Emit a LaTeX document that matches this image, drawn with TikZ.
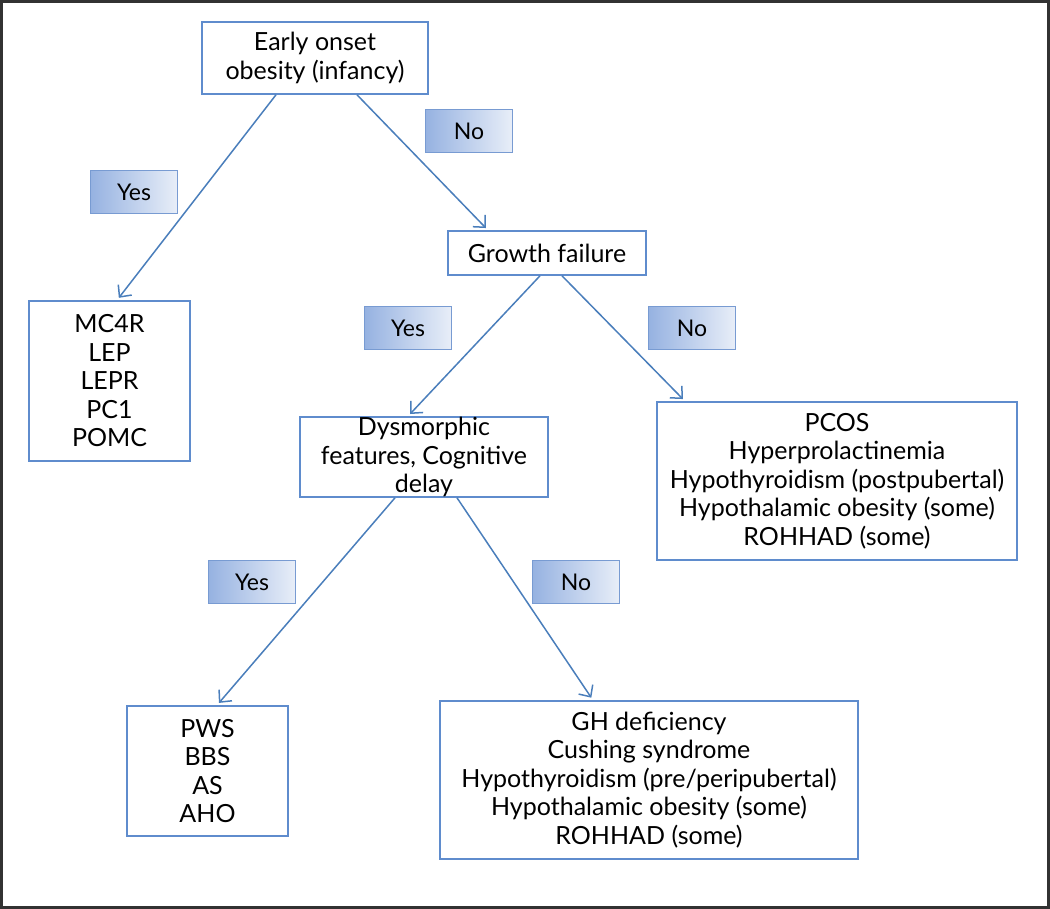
\documentclass[tikz,border=0pt]{standalone}
\usepackage{fontspec}
\setmainfont{Lato}
\usetikzlibrary{arrows.meta}
\definecolor{arrowblue}{RGB}{74,126,187}
\definecolor{boxblue}{RGB}{95,140,205}
\definecolor{labdark}{RGB}{150,178,225}
\definecolor{lablight}{RGB}{232,238,248}
\definecolor{labborder}{RGB}{120,155,210}
\definecolor{frame}{RGB}{50,50,50}
\tikzset{
  box/.style={draw=boxblue, line width=1.6pt, rectangle, inner sep=0pt, align=center,
    font=\fontsize{25}{28.5}\selectfont, text=black},
  lab/.style={draw=labborder, line width=0.9pt, rectangle, inner sep=0pt,
    left color=labdark, right color=lablight, minimum width=87pt, minimum height=43pt,
    font=\fontsize{23}{26}\selectfont, text=black},
  conn/.style={draw=arrowblue, line width=1.5pt, -{Straight Barb[length=9pt,width=17pt,line width=1.5pt]}, shorten >=3pt}
}
\begin{document}
\begin{tikzpicture}[x=1pt,y=-1pt]
\useasboundingbox (0,0) rectangle (1050,909);
\draw[frame, line width=3pt] (1.5,1.5) rectangle (1048.5,907.5);

\node[box, minimum width=226pt, minimum height=72pt] (top) at (315,58) {Early onset\\obesity (infancy)};
\node[box, minimum width=161pt, minimum height=160pt] (lbox) at (109.5,381) {MC4R\\LEP\\LEPR\\PC1\\POMC};
\node[box, minimum width=198pt, minimum height=44pt] (growth) at (547,253) {Growth failure};
\node[box, minimum width=248pt, minimum height=80pt] (dys) at (424,457) {Dysmorphic\\features, Cognitive\\delay};
\node[box, minimum width=360pt, minimum height=158pt] (pcos) at (837,481) {PCOS\\Hyperprolactinemia\\Hypothyroidism (postpubertal)\\Hypothalamic obesity (some)\\ROHHAD (some)};
\node[box, minimum width=161pt, minimum height=130pt] (pws) at (207.5,771) {PWS\\BBS\\AS\\AHO};
\node[box, minimum width=418pt, minimum height=158pt] (gh) at (649,780) {GH deficiency\\Cushing syndrome\\Hypothyroidism (pre/peripubertal)\\Hypothalamic obesity (some)\\ROHHAD (some)};

\node[lab] (yes1) at (134,192) {Yes};
\node[lab] (no1) at (469,131) {No};
\node[lab] (yes2) at (408,328) {Yes};
\node[lab] (no2) at (692,328) {No};
\node[lab] (yes3) at (252,582) {Yes};
\node[lab] (no3) at (576,582) {No};

\draw[conn] ([xshift=-39pt]top.south) -- ([xshift=7.5pt]lbox.north);
\draw[conn] ([xshift=42pt]top.south) -- ([xshift=-59pt]growth.north);
\draw[conn] ([xshift=-7pt]growth.south) -- ([xshift=-16pt]dys.north);
\draw[conn] ([xshift=15pt]growth.south) -- ([xshift=-152pt]pcos.north);
\draw[conn] ([xshift=-29pt]dys.south) -- ([xshift=9.5pt]pws.north);
\draw[conn] ([xshift=33pt]dys.south) -- ([xshift=-56pt]gh.north);
\end{tikzpicture}
\end{document}
